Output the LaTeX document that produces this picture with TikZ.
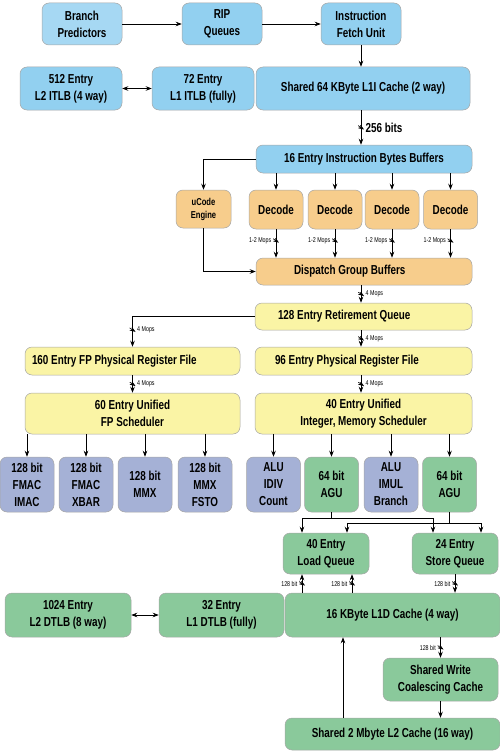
\documentclass[tikz,border=0pt]{standalone}
\usepackage{fontspec}
\setmainfont{Liberation Sans}[FakeStretch=0.76]
\usetikzlibrary{arrows.meta}

\definecolor{boxblue}{RGB}{146,208,240}
\definecolor{boxorange}{RGB}{247,205,140}
\definecolor{boxyellow}{RGB}{250,244,165}
\definecolor{boxlav}{RGB}{165,177,214}
\definecolor{boxgreen}{RGB}{138,201,155}

\begin{document}
\begin{tikzpicture}[
		x=1pt, y=-1pt,
		>={Stealth[length=6pt,width=4.5pt]},
		every path/.style={line width=0.7pt},
		blk/.style={draw=gray!70, line width=0.5pt, rounded corners=7pt, align=center,
			inner sep=1pt, text=black, font=\bfseries\fontsize{13}{17}\selectfont},
		blueblk/.style={blk, fill=boxblue},
		orangeblk/.style={blk, fill=boxorange},
		yellowblk/.style={blk, fill=boxyellow},
		lavblk/.style={blk, fill=boxlav, minimum width=54pt, minimum height=55pt},
		greenblk/.style={blk, fill=boxgreen},
		sz/.style 2 args={minimum width=#1pt, minimum height=#2pt},
		lpad/.style 2 args={align=flush left, inner xsep=#1, text width=#2},
		busmark/.style={inner sep=0pt, minimum width=6pt, minimum height=4pt, label distance=6pt,
			path picture={\draw[black, line width=0.6pt] (path picture bounding box.north west) -- (path picture bounding box.south east);}},
		buslabel/.style={font=\fontsize{7}{8}\selectfont, inner sep=1pt, text=black}
	]
	\useasboundingbox (0,0) rectangle (500,752);
	\coordinate (spine) at (361,0);

	% fetch
	\node[blueblk, sz={80}{42}, fill=boxblue!82!white] (bp) at (82,24) {Branch\\Predictors};
	\node[blueblk, sz={80}{42}] (rip) at (222,24) {RIP\\Queues};
	\node[blueblk, sz={80}{42}] (ifu) at (361,24) {Instruction\\Fetch Unit};
	\node[blueblk, sz={102}{43}] (l2itlb) at (71,88.5) {512 Entry\\L2 ITLB (4 way)};
	\node[blueblk, sz={102}{43}] (l1itlb) at (203,88.5) {72 Entry\\L1 ITLB (fully)};
	\node[blueblk, sz={214}{43}] (l1i) at (363,88.5) {Shared 64 KByte L1I Cache (2 way)};
	\node[blueblk, sz={216}{28}] (ibb) at (364,159) {16 Entry Instruction Bytes Buffers};

	% decode
	\node[orangeblk, sz={55}{38}, font=\bfseries\fontsize{10}{13}\selectfont] (ucode) at (203.5,209) {uCode\\Engine};
	\foreach \i/\x in {1/276,2/335,3/392,4/450.5}
		\node[orangeblk, sz={54}{39}] (dec\i) at (\x,209.5) {Decode};
	\node[orangeblk, sz={216}{27}, lpad={38pt}{140pt}] (dgb) at (364,271.5) {Dispatch Group Buffers};

	% retire, rename, schedule
	\node[yellowblk, sz={217}{27}, lpad={23pt}{171pt}] (rq) at (363.5,316.5) {128 Entry Retirement Queue};
	\node[yellowblk, sz={215}{28}, lpad={7pt}{201pt}] (fpprf) at (132.5,361) {160 Entry FP Physical Register File};
	\node[yellowblk, sz={217}{28}, lpad={20pt}{177pt}] (prf) at (363.5,361) {96 Entry Physical Register File};
	\node[yellowblk, sz={215}{41}] (fpsch) at (132.5,413.5) {60 Entry Unified\\FP Scheduler};
	\node[yellowblk, sz={217}{41}] (intsch) at (363.5,413.5) {40 Entry Unified\\Integer, Memory Scheduler};

	% execution units
	\node[lavblk] (fmac1) at (27,484.5) {128 bit\\FMAC\\IMAC};
	\node[lavblk] (fmac2) at (86,484.5) {128 bit\\FMAC\\XBAR};
	\node[lavblk] (mmx1) at (145,484.5) {128 bit\\MMX};
	\node[lavblk] (mmx2) at (205,484.5) {128 bit\\MMX\\FSTO};
	\node[lavblk] (alu1) at (273.5,484.5) {ALU\\IDIV\\Count};
	\node[greenblk, sz={54}{55}] (agu1) at (331.5,484.5) {64 bit\\AGU};
	\node[lavblk] (alu2) at (391,484.5) {ALU\\IMUL\\Branch};
	\node[greenblk, sz={54}{55}] (agu2) at (449.5,484.5) {64 bit\\AGU};

	% memory
	\node[greenblk, sz={86}{41}] (ldq) at (326,553.5) {40 Entry\\Load Queue};
	\node[greenblk, sz={86}{41}] (stq) at (455,553.5) {24 Entry\\Store Queue};
	\node[greenblk, sz={126}{44}] (l2dtlb) at (68,615) {1024 Entry\\L2 DTLB (8 way)};
	\node[greenblk, sz={125}{44}] (l1dtlb) at (221.5,615) {32 Entry\\L1 DTLB (fully)};
	\node[greenblk, sz={215}{44}] (l1d) at (392.5,615) {16 KByte L1D Cache (4 way)};
	\node[greenblk, sz={115}{43}] (swcc) at (440.5,679.5) {Shared Write\\Coalescing Cache};
	\node[greenblk, sz={215}{32}] (l2) at (392.5,734) {Shared 2 Mbyte L2 Cache (16 way)};

	% front end connectors
	\draw[->] (bp) -- (rip);
	\draw[->] (rip) -- (ifu);
	\draw[->] (ifu) -- (ifu |- l1i.north);
	\draw[<->] (l1itlb) -- (l2itlb);
	\draw[->] (spine |- l1i.south) -- node[busmark, label distance=10pt,
		label={[buslabel, font=\bfseries\fontsize{13}{17}\selectfont]right:256 bits}] {} (spine |- ibb.north);
	\draw[->] (ibb.west) -| (ucode);
	\foreach \i in {1,...,4} {
		\draw[->] (ibb.south -| dec\i) -- (dec\i);
		\draw[->] (dec\i) -- node[pos=.4, busmark, label={[buslabel]left:1-2 Mops}] {} (dec\i |- dgb.north);
	}
	\draw[->] (ucode) |- (dgb.west);

	% retire and schedule connectors
	\draw[->] (spine |- dgb.south) -- node[busmark, label={[buslabel]right:4 Mops}] {} (spine |- rq.north);
	\draw[->] (rq.west) -| node[pos=.72, busmark, label={[buslabel]right:4 Mops}] {} (fpprf);
	\draw[->] (spine |- rq.south) -- node[busmark, label={[buslabel]right:4 Mops}] {} (spine |- prf.north);
	\draw[->] (fpprf) -- node[busmark, label={[buslabel]right:4 Mops}] {} (fpsch);
	\draw[->] (spine |- prf.south) -- node[busmark, label={[buslabel]right:4 Mops}] {} (spine |- intsch.north);
	\foreach \u in {fmac1,fmac2,mmx1,mmx2}
		\draw[->] (fpsch.south -| \u) -- (\u);
	\foreach \u in {alu1,agu1,alu2,agu2}
		\draw[->] (intsch.south -| \u) -- (\u);

	% address generation to queues
	\draw[->] (agu1.south) -- ++(0,6) -| ([xshift=-24pt]ldq.north);
	\draw[->] (agu1.south) ++(0,6) -| ([xshift=-22pt]stq.north);
	\draw[->] (agu2.south) -- ++(0,11) -| ([xshift=21pt]ldq.north);
	\draw[->] (agu2.south) ++(0,11) -| ([xshift=26pt]stq.north);

	% data cache connectors
	\coordinate (ldA) at ([xshift=-24pt]ldq.south);
	\coordinate (ldB) at ([xshift=26pt]ldq.south);
	\coordinate (l2up) at ([xshift=-49.5pt]l2.north);
	\draw[->] (ldA |- l1d.north) -- node[busmark, label={[buslabel]left:128 bit}] {} (ldA);
	\draw[->] (ldB |- l1d.north) -- node[busmark, label={[buslabel]left:128 bit}] {} (ldB);
	\draw[->] (stq) -- node[busmark, label={[buslabel]left:128 bit}] {} (stq |- l1d.north);
	\draw[<->] (l1dtlb) -- (l2dtlb);
	\draw[->] (swcc |- l1d.south) -- node[busmark, label={[buslabel]left:128 bit}] {} (swcc);
	\draw[->] (swcc) -- (swcc |- l2.north);
	\draw[->] (l2up) -- (l2up |- l1d.south);
\end{tikzpicture}
\end{document}
